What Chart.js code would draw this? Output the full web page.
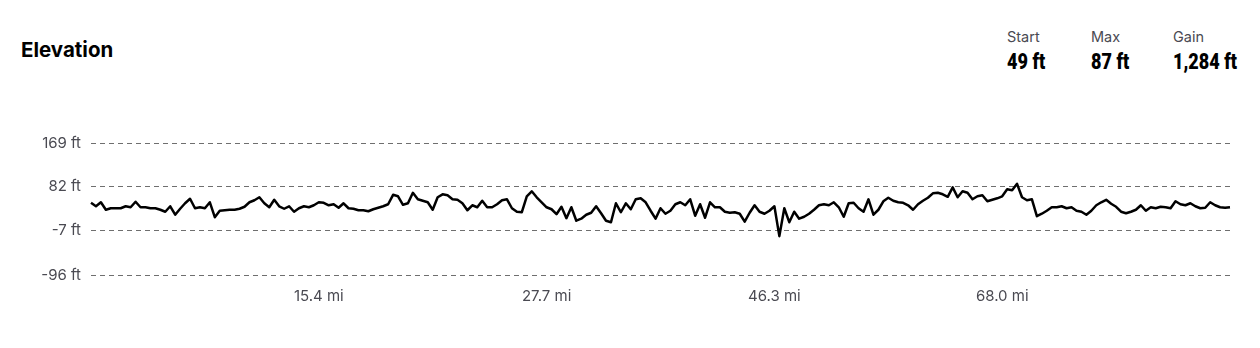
<!DOCTYPE html>
<html>
<head>
<meta charset="utf-8">
<title>Elevation</title>
<script src="https://cdn.jsdelivr.net/npm/chart.js@4.4.1/dist/chart.umd.min.js"></script>
<style>
  html, body { margin: 0; padding: 0; background: #fff; }
  body { width: 1260px; height: 348px; position: relative; overflow: hidden; font-family: Inter, "Noto Sans", sans-serif; }
  #title { position: absolute; left: 21px; top: 38px; font-size: 20.5px; font-weight: 700; color: #000; line-height: 24px; }
  .stat { position: absolute; top: 28px; }
  .stat .lbl { font-size: 14.5px; color: #4a4a52; line-height: 18px; }
  .stat .val { font-family: Roboto, sans-serif; font-weight: 900; font-size: 22px; line-height: 26px; color: #000;
               margin-top: 3px; transform: scaleX(0.82); transform-origin: left; white-space: nowrap; }
  #chartWrap { position: absolute; left: 0; top: 0; width: 1260px; height: 348px; }
</style>
</head>
<body>
<div id="title">Elevation</div>
<div id="stats"></div>
<div id="chartWrap"><canvas id="elevChart" width="1260" height="348"></canvas></div>

<script>
// ----------------- Data ----------------
const statNames = ["Start", "Max", "Gain"];
const statValues = ["49 ft", "87 ft", "1,284 ft"];

const yTickValues = [-96, -7, 82, 169];
const xTickLabels = ["15.4 mi", "27.7 mi", "46.3 mi", "68.0 mi"];

// elevation in ft, evenly spaced samples along the route
const elevation = [
  49, 42, 50, 35, 38, 38, 38, 42, 40, 51,
  40, 40, 38, 38, 35, 31, 42, 25, 37, 48,
  57, 38, 40, 38, 50, 20, 33, 34, 35, 35,
  37, 41, 50, 54, 60, 48, 40, 55, 42, 37,
  42, 31, 38, 42, 40, 44, 50, 49, 44, 46,
  39, 48, 38, 37, 34, 34, 32, 36, 39, 42,
  46, 65, 62, 45, 48, 69, 56, 53, 50, 35,
  60, 66, 64, 56, 55, 48, 34, 44, 40, 53,
  40, 40, 46, 54, 56, 38, 31, 30, 62, 72,
  60, 50, 40, 36, 26, 41, 18, 40, 13, 17,
  25, 29, 42, 28, 13, 10, 48, 30, 48, 36,
  56, 58, 50, 33, 17, 38, 27, 33, 46, 50,
  44, 56, 23, 46, 19, 50, 40, 40, 31, 29,
  30, 27, 11, 29, 44, 31, 27, 33, 42, -18,
  38, 10, 31, 17, 21, 27, 35, 44, 46, 44,
  50, 40, 21, 48, 49, 38, 31, 56, 25, 35,
  52, 59, 53, 50, 49, 44, 35, 46, 53, 59,
  68, 69, 66, 61, 80, 60, 72, 69, 56, 62,
  64, 52, 55, 58, 62, 76, 74, 87, 60, 54,
  56, 22, 27, 33, 40, 40, 42, 38, 40, 33,
  31, 25, 33, 44, 50, 55, 47, 41, 31, 28,
  31, 35, 44, 33, 40, 38, 41, 40, 38, 52,
  46, 44, 48, 42, 38, 39, 50, 44, 40, 39, 40
];

// ----------------- Header stats ----------------
const statLeft = [1007, 1091, 1173];
const statsEl = document.getElementById("stats");
statNames.forEach((name, i) => {
  const d = document.createElement("div");
  d.className = "stat";
  d.style.left = statLeft[i] + "px";
  d.innerHTML = `<div class="lbl">${name}</div><div class="val">${statValues[i]}</div>`;
  statsEl.appendChild(d);
});

// ----------------- Chart ----------------
const N = elevation.length;
const labelColor = "#4a4a52";
const tickFont = { family: "Inter", size: 15 };

new Chart(document.getElementById("elevChart").getContext("2d"), {
  type: "line",
  data: {
    labels: elevation.map((_, i) => i),
    datasets: [{
      data: elevation,
      borderColor: "#000",
      borderWidth: 2.5,
      borderJoinStyle: "round",
      pointRadius: 0,
      tension: 0,
      fill: false
    }]
  },
  options: {
    responsive: false,
    animation: false,
    layout: { padding: { left: 0, right: 30, top: 143, bottom: 39 } },
    plugins: { legend: { display: false }, tooltip: { enabled: false } },
    scales: {
      x: {
        type: "category",
        offset: false,
        grid: { display: false, drawTicks: false },
        border: { display: false },
        afterBuildTicks: (s) => {
          s.ticks = xTickLabels.map((_, k) => ({ value: Math.round((k + 1) * (N - 1) / 5) }));
        },
        afterFit: (s) => { s.height = 34; },
        ticks: {
          autoSkip: false,
          maxRotation: 0,
          padding: 12,
          color: labelColor,
          font: tickFont,
          callback: (v, i) => xTickLabels[i]
        }
      },
      y: {
        min: yTickValues[0],
        max: yTickValues[yTickValues.length - 1],
        afterBuildTicks: (s) => { s.ticks = yTickValues.map((v) => ({ value: v })); },
        afterFit: (s) => { s.width = 91; },
        grid: { color: "#6f6f6f", lineWidth: 1, drawTicks: false },
        border: { display: false, dash: [5, 4] },
        ticks: {
          padding: 10,
          color: labelColor,
          font: tickFont,
          callback: (v) => v + " ft"
        }
      }
    }
  }
});
</script>
</body>
</html>
